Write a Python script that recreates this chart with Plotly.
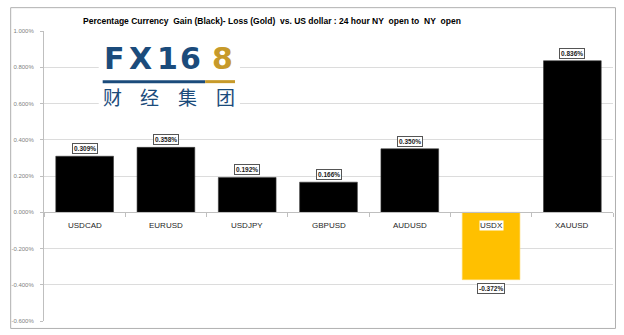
import plotly.graph_objects as go

categories = ["USDCAD", "EURUSD", "USDJPY", "GBPUSD", "AUDUSD", "USDX", "XAUUSD"]
values = [0.309, 0.358, 0.192, 0.166, 0.350, -0.372, 0.836]
value_labels = ["0.309%", "0.358%", "0.192%", "0.166%", "0.350%", "-0.372%", "0.836%"]
y_tickvals = [1.0, 0.8, 0.6, 0.4, 0.2, 0.0, -0.2, -0.4, -0.6]
y_ticktext = ["1.000%", "0.800%", "0.600%", "0.400%", "0.200%", "0.000%", "-0.200%", "-0.400%", "-0.600%"]
title_text = "Percentage Currency\u00a0 Gain (Black)- Loss (Gold)\u00a0 vs. US dollar : 24 hour NY\u00a0 open to\u00a0 NY\u00a0 open"
logo_letters = ["F", "X", "1", "6", "8"]
logo_chars = ["财", "经", "集", "团"]

W, H = 624, 335
L, R, T, B = 41, 11, 31, 12
PW, PH = W - L - R, H - T - B

def px(x):
    return (x - L) / PW

def py(y):
    return (H - B - y) / PH

colors = ["#FFC000" if v < 0 else "#000000" for v in values]

fig = go.Figure()
fig.add_trace(go.Bar(
    x=categories, y=values,
    marker=dict(color=colors, line=dict(color=["#FFD966" if v < 0 else "#3a3a3a" for v in values], width=0.6)),
    hoverinfo="skip",
))

annotations = []
# data labels
for c, v, t in zip(categories, values, value_labels):
    annotations.append(dict(
        x=c, y=v, xref="x", yref="y", text="<b>" + t + "</b>", showarrow=False,
        yanchor="bottom" if v >= 0 else "top", yshift=2 if v >= 0 else -3,
        font=dict(family="Liberation Sans", size=6.5, color="#222222"),
        bgcolor="white", bordercolor="#555555", borderwidth=1, borderpad=1,
    ))
# category labels near zero line
for c in categories:
    annotations.append(dict(
        x=c, y=0, xref="x", yref="y", text=c, showarrow=False,
        yanchor="top", yshift=-8,
        font=dict(family="Liberation Sans", size=8, color="#262626"),
        bgcolor="white", borderpad=0,
    ))
# title
annotations.append(dict(
    x=px(270), y=py(21), xref="paper", yref="paper", text="<b>" + title_text + "</b>",
    showarrow=False, xanchor="center", yanchor="middle",
    font=dict(family="Liberation Sans", size=8.5, color="#000000"),
))
# logo letters
letter_x = [112, 138.5, 165, 188.5, 220]
for ch, lx in zip(logo_letters, letter_x):
    annotations.append(dict(
        x=px(lx), y=py(59), xref="paper", yref="paper", text="<b>" + ch + "</b>",
        showarrow=False, xanchor="center", yanchor="middle",
        font=dict(family="DejaVu Sans", size=30, color="#c79a2a" if ch == "8" else "#1b4b7b"),
    ))
for i, ch in enumerate(logo_chars):
    annotations.append(dict(
        x=px(109.5 + i * 38), y=py(97), xref="paper", yref="paper", text=ch,
        showarrow=False, xanchor="center", yanchor="middle",
        font=dict(family="Noto Sans CJK SC", size=19, color="#1b4b7b"),
    ))

shapes = [
    dict(type="rect", xref="paper", yref="paper", x0=px(96), x1=px(238), y0=py(112), y1=py(38),
         fillcolor="white", line=dict(width=0), layer="above"),
    dict(type="line", xref="paper", yref="paper", x0=px(100), x1=px(203), y0=py(82), y1=py(82),
         line=dict(color="#1b4b7b", width=3)),
    dict(type="line", xref="paper", yref="paper", x0=px(203), x1=px(233), y0=py(82), y1=py(82),
         line=dict(color="#c79a2a", width=3)),
    dict(type="rect", xref="paper", yref="paper", x0=px(7.5), x1=px(615.5), y0=py(330.5), y1=py(7.5),
         fillcolor="rgba(0,0,0,0)", line=dict(color="#b0b0b0", width=1), layer="below"),
]

fig.update_layout(
    width=W, height=H,
    margin=dict(l=L, r=R, t=T, b=B, pad=0),
    paper_bgcolor="white", plot_bgcolor="white",
    showlegend=False, bargap=0.29,
    annotations=annotations, shapes=shapes,
    xaxis=dict(
        type="category", anchor="free", position=0.375,
        showline=True, linecolor="#bfbfbf", linewidth=1,
        ticks="outside", tickson="boundaries", ticklen=4, tickcolor="#bfbfbf",
        showticklabels=False, showgrid=False, zeroline=False, fixedrange=True,
    ),
    yaxis=dict(
        range=[-0.6, 1.0], tickvals=y_tickvals, ticktext=y_ticktext,
        showline=True, linecolor="#bfbfbf", linewidth=1,
        ticks="outside", ticklen=3, tickcolor="#bfbfbf",
        gridcolor="#dcdcdc", gridwidth=1, zeroline=False,
        tickfont=dict(family="Liberation Sans", size=6, color="#7f7f7f"),
        ticklabelstandoff=5, fixedrange=True,
    ),
)

fig.write_html("out.html", config={"displayModeBar": False})
